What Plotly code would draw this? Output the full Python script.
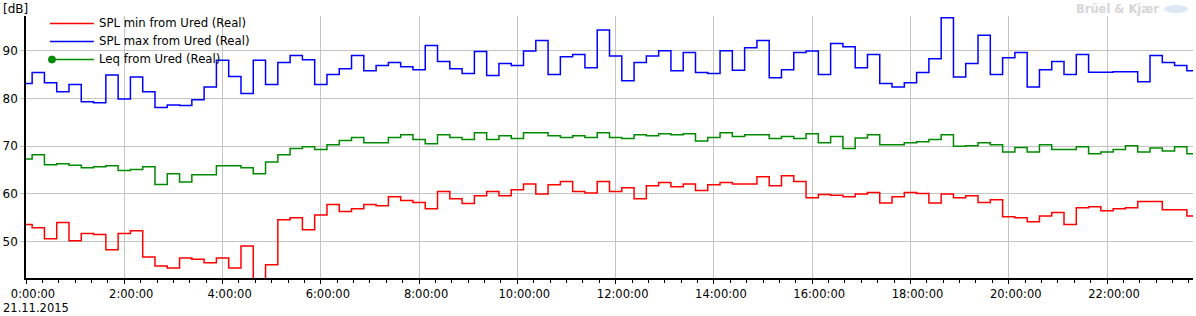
import pandas as pd
import plotly.graph_objects as go

# ---- data (15-minute values, 21.11.2015) ----
times = pd.date_range("2015-11-21 00:00:00", periods=96, freq="15min")

spl_min = [53.6, 52.9, 50.6, 54.0, 50.2, 51.7, 51.5, 48.3, 51.7, 52.3, 46.8, 44.9,
           44.5, 46.6, 46.3, 45.6, 46.6, 44.5, 49.1, 40.0, 45.2, 54.6, 55.0, 52.5,
           55.6, 57.8, 56.3, 56.9, 57.8, 57.5, 59.4, 58.6, 58.2, 56.9, 60.5, 59.0,
           58.0, 59.6, 60.5, 59.6, 60.9, 62.1, 60.0, 61.9, 62.6, 60.5, 60.2, 62.6,
           60.5, 61.3, 59.0, 61.7, 62.4, 61.5, 62.1, 60.7, 61.9, 62.4, 62.1, 62.1,
           63.6, 61.7, 63.8, 62.6, 59.2, 59.9, 59.7, 59.4, 60.0, 60.3, 58.1, 59.4,
           60.3, 60.1, 58.1, 60.0, 59.2, 59.6, 58.2, 58.8, 55.2, 55.0, 54.2, 55.4,
           56.1, 53.6, 57.1, 57.3, 56.5, 56.9, 57.1, 58.4, 58.4, 56.7, 56.7, 55.4]

spl_max = [83.1, 85.4, 83.3, 81.4, 82.9, 79.3, 79.1, 84.9, 79.9, 84.5, 81.4, 78.1,
           78.6, 78.5, 79.7, 82.4, 88.0, 84.6, 81.0, 88.0, 82.9, 87.5, 89.0, 88.1,
           82.9, 85.0, 86.2, 89.0, 85.8, 86.9, 87.5, 86.6, 86.0, 91.1, 87.7, 86.2,
           85.2, 89.8, 84.8, 87.3, 86.9, 89.9, 92.1, 85.0, 88.7, 89.2, 86.4, 94.3,
           88.9, 83.7, 87.5, 88.9, 90.0, 85.8, 89.6, 85.4, 85.2, 90.0, 85.9, 90.6,
           92.1, 84.3, 86.0, 89.6, 89.9, 85.0, 91.5, 90.8, 86.4, 89.2, 83.1, 82.4,
           83.3, 85.4, 88.3, 96.9, 84.5, 87.3, 93.2, 85.0, 88.5, 89.6, 82.4, 86.0,
           87.7, 85.0, 89.2, 85.5, 85.5, 85.6, 85.6, 83.5, 89.0, 87.5, 86.9, 85.8]

leq = [67.3, 68.2, 66.1, 66.3, 66.0, 65.5, 65.7, 65.9, 64.9, 65.1, 65.7, 62.0,
       64.2, 62.5, 64.0, 64.0, 65.9, 65.9, 65.5, 64.2, 66.7, 68.2, 69.5, 69.9,
       69.3, 70.3, 71.2, 71.8, 70.7, 70.7, 71.8, 72.4, 71.4, 70.5, 72.4, 71.8,
       71.4, 72.8, 71.4, 72.2, 71.6, 72.8, 72.8, 72.2, 71.8, 72.2, 71.8, 72.8,
       71.8, 71.6, 72.4, 72.2, 72.6, 72.4, 72.6, 71.1, 71.8, 72.8, 72.0, 72.4,
       72.4, 71.6, 72.0, 71.6, 72.6, 70.7, 72.0, 69.5, 71.7, 72.4, 70.3, 70.3,
       70.7, 70.9, 71.4, 72.4, 70.0, 70.1, 70.7, 70.3, 68.8, 69.7, 68.8, 70.3,
       69.3, 69.3, 69.9, 68.4, 68.8, 69.3, 70.1, 68.8, 69.6, 69.0, 69.9, 68.4]

series_names = ["SPL min from Ured (Real)", "SPL max from Ured (Real)", "Leq from Ured (Real)"]
series_colors = ["#ff0000", "#0000ff", "#008a00"]
y_ticks = [50, 60, 70, 80, 90]

# ---- geometry helpers ----
W, H = 1196, 316
L, R, T, B = 24, 3, 16, 38
def px(x):
    return (x - L) / (W - L - R)
def py(y):
    return 1 - (y - T) / (H - T - B)

FONT = "DejaVu Sans, Verdana, sans-serif"

fig = go.Figure()
for vals, name, col in zip([spl_min, spl_max, leq], series_names, series_colors):
    fig.add_trace(go.Scatter(
        x=times, y=vals, name=name, mode="lines",
        line=dict(color=col, width=1.5, shape="hvh"),
        showlegend=False,
    ))

shapes = []
annotations = []
legend_rows = [23.5, 41.5, 59.5]
for name, col, yy in zip(series_names, series_colors, legend_rows):
    shapes.append(dict(type="line", xref="paper", yref="paper",
                       x0=px(48), x1=px(92), y0=py(yy), y1=py(yy),
                       line=dict(color=col, width=1.5)))
    annotations.append(dict(text=name, xref="paper", yref="paper",
                            x=px(95), y=py(yy), xanchor="left", yanchor="middle",
                            showarrow=False, font=dict(family=FONT, size=11.7, color="#000")))
# marker on Leq legend sample
shapes.append(dict(type="circle", xref="paper", yref="paper",
                   x0=px(46.5), x1=px(53.5), y0=py(63), y1=py(56),
                   fillcolor="#008a00", line=dict(color="#008a00", width=1)))

annotations.append(dict(text="[dB]", xref="paper", yref="paper", x=px(-1), y=py(0),
                        xanchor="left", yanchor="top", showarrow=False,
                        font=dict(family=FONT, size=12, color="#000")))
annotations.append(dict(text="21.11.2015", xref="paper", yref="paper", x=px(-1), y=py(299),
                        xanchor="left", yanchor="top", showarrow=False,
                        font=dict(family=FONT, size=11.5, color="#000")))
annotations.append(dict(text="<b>Brüel &amp; Kjær</b>", xref="paper", yref="paper",
                        x=px(1161), y=py(9), xanchor="right", yanchor="middle",
                        showarrow=False, font=dict(family=FONT, size=11.5, color="#d6d6d6")))
shapes.append(dict(type="circle", xref="paper", yref="paper",
                   x0=px(1164), x1=px(1188), y0=py(13), y1=py(5),
                   fillcolor="#dde8f6", line=dict(width=0)))

fig.update_layout(
    width=W, height=H,
    margin=dict(l=L, r=R, t=T, b=B, pad=0),
    paper_bgcolor="white", plot_bgcolor="white",
    font=dict(family=FONT, size=12, color="#000"),
    shapes=shapes, annotations=annotations,
    showlegend=False,
)
fig.update_xaxes(
    type="date",
    range=["2015-11-21 00:00:00", "2015-11-21 23:45:00"],
    tick0="2015-11-21 00:00:00", dtick=2 * 3600 * 1000,
    tickformat="%-H:%M:%S",
    ticks="outside", ticklen=4, tickcolor="#000", tickwidth=1,
    minor=dict(dtick=20 * 60 * 1000, ticks="outside", ticklen=3, tickcolor="#000", showgrid=False),
    showgrid=True, gridcolor="#c4c4c4", gridwidth=1,
    showline=True, linecolor="#000", linewidth=1.5,
    ticklabelshift=7,
    tickfont=dict(family=FONT, size=11.5, color="#000"),
    zeroline=False,
)
fig.update_yaxes(
    range=[42.4, 97.25],
    tickvals=y_ticks,
    ticks="outside", ticklen=4, tickcolor="#c4c4c4",
    showgrid=True, gridcolor="#c4c4c4", gridwidth=1,
    showline=True, linecolor="#000", linewidth=1.5,
    tickfont=dict(family=FONT, size=12, color="#000"),
    zeroline=False,
)

fig.write_html("out.html")
